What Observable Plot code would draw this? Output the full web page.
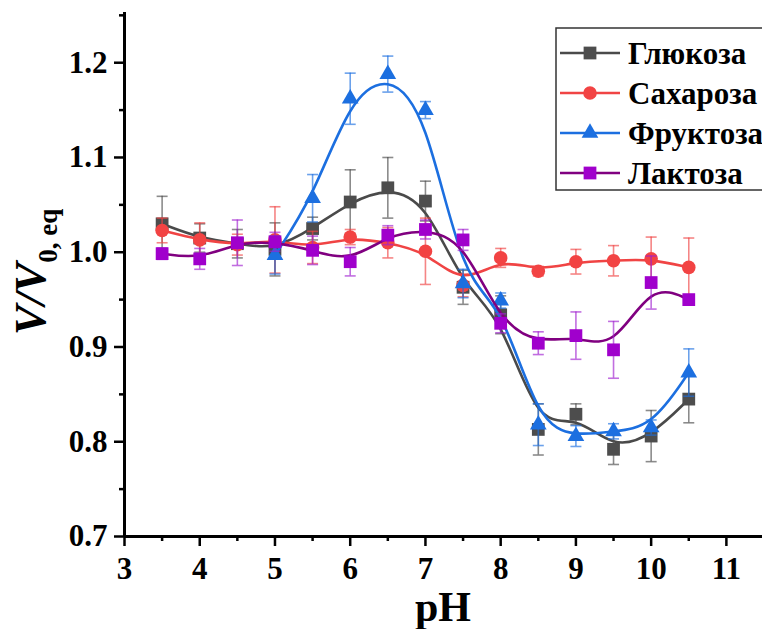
<!DOCTYPE html>
<html><head><meta charset="utf-8">
<script src="https://cdn.jsdelivr.net/npm/d3@7"></script>
<script src="https://cdn.jsdelivr.net/npm/@observablehq/plot@0.6"></script>
<style>body{margin:0;background:#fff}</style>
</head><body><div id="chart"></div>
<script>
const pH = [3.5, 4, 4.5, 5, 5.5, 6, 6.5, 7, 7.5, 8, 8.5, 9, 9.5, 10, 10.5];
const glucose    = [1.030, 1.015, 1.009, 1.003, 1.025, 1.053, 1.068, 1.054, 0.963, 0.934, 0.813, 0.829, 0.792, 0.806, 0.845];
const glucoseErr = [0.029, 0.015, 0.015, 0.028, 0.012, 0.034, 0.032, 0.021, 0.018, 0.020, 0.027, 0.011, 0.016, 0.027, 0.025];
const sucrose    = [1.023, 1.013, 1.008, 1.013, 1.005, 1.016, 1.010, 1.001, 0.965, 0.994, 0.980, 0.990, 0.991, 0.993, 0.984];
const sucroseErr = [0.013, 0.018, 0.011, 0.035, 0.017, 0.008, 0.016, 0.035, 0.012, 0.010, 0.005, 0.013, 0.016, 0.023, 0.031];
const fructose    = [null, null, null, 0.997, 1.057, 1.162, 1.188, 1.150, 0.967, 0.949, 0.818, 0.806, 0.811, 0.815, 0.873];
const fructoseErr = [null, null, null, 0.020, 0.025, 0.027, 0.019, 0.009, 0.015, 0.008, 0.022, 0.011, 0.008, 0.008, 0.025];
const lactose    = [0.9985, 0.993, 1.010, 1.011, 1.002, 0.990, 1.018, 1.024, 1.013, 0.925, 0.904, 0.912, 0.897, 0.968, 0.950];
const lactoseErr = [0.006, 0.011, 0.024, 0.010, 0.015, 0.015, 0.010, 0.010, 0.011, 0.010, 0.012, 0.025, 0.030, 0.028, 0.003];
const names = ["Глюкоза", "Сахароза", "Фруктоза", "Лактоза"];
const xTicks = [3, 4, 5, 6, 7, 8, 9, 10, 11];
const xMinorTicks = [3.5, 4.5, 5.5, 6.5, 7.5, 8.5, 9.5, 10.5];
const yTicks = [0.7, 0.8, 0.9, 1.0, 1.1, 1.2];
const yMinorTicks = [0.75, 0.85, 0.95, 1.05, 1.15, 1.25];
const xLabel = "pH";

const styles = [
  {line: "#4a4a4a", fill: "#4d4d4d", err: "#4d4d4d", symbol: "square", r: 7.2},
  {line: "#f04444", fill: "#f24343", err: "#f04444", symbol: "circle", r: 6.8},
  {line: "#1c6fe0", fill: "#1c6fe0", err: "#1c6fe0", symbol: "triangle", r: 6.2},
  {line: "#800080", fill: "#a000cc", err: "#a020d0", symbol: "square", r: 7.2}
];
const values = [glucose, sucrose, fructose, lactose];
const errors = [glucoseErr, sucroseErr, fructoseErr, lactoseErr];

const capSymbol = {draw(ctx) { ctx.moveTo(-5.5, 0); ctx.lineTo(5.5, 0); }};

const seriesMarks = names.flatMap((name, k) => {
  const st = styles[k];
  const data = pH.map((x, i) => ({x, y: values[k][i], e: errors[k][i]})).filter(d => d.y != null);
  const caps = data.flatMap(d => [{x: d.x, y: d.y - d.e}, {x: d.x, y: d.y + d.e}]);
  return [
    Plot.line(data, {x: "x", y: "y", curve: "basis", stroke: st.line, strokeWidth: 2.6}),
    Plot.ruleX(data, {x: "x", y1: d => d.y - d.e, y2: d => d.y + d.e, stroke: st.err, strokeOpacity: 0.65, strokeWidth: 1.6}),
    Plot.dot(caps, {x: "x", y: "y", symbol: capSymbol, fill: "none", stroke: st.err, strokeOpacity: 0.65, strokeWidth: 1.6}),
    Plot.dot(data, {x: "x", y: "y", symbol: st.symbol, r: st.r, fill: st.fill, stroke: "none"})
  ];
});

const font = "Liberation Serif, Times New Roman, serif";
const plot = Plot.plot({
  width: 762, height: 629,
  marginLeft: 124, marginRight: 0, marginTop: 12, marginBottom: 93,
  x: {domain: [3, 11.48]},
  y: {domain: [0.7, 1.253]},
  style: {fontFamily: font, fontWeight: "bold", fontSize: "31px", color: "#000", background: "#fff"},
  marks: [
    Plot.axisX({ticks: xTicks, tickSize: 10, tickPadding: 10, strokeWidth: 2.5, label: null, tickFormat: d => String(d)}),
    Plot.axisX({ticks: xMinorTicks, tickSize: 5, strokeWidth: 2.5, label: null, tickFormat: () => ""}),
    Plot.axisY({ticks: yTicks, tickSize: 10, tickPadding: 7, strokeWidth: 2.5, label: null, tickFormat: d => d.toFixed(1)}),
    Plot.axisY({ticks: yMinorTicks, tickSize: 5, strokeWidth: 2.5, label: null, tickFormat: () => ""}),
    Plot.ruleY([0.7], {strokeWidth: 3}),
    Plot.ruleX([3], {strokeWidth: 3}),
    ...seriesMarks
  ]
});
document.getElementById("chart").appendChild(plot);

const svg = d3.select(plot);
svg.selectAll("text").style("font-family", font).style("font-size", "31px");
// axis titles
svg.append("text").attr("x", 443).attr("y", 621).attr("text-anchor", "middle")
  .style("font-family", font).style("font-weight", "bold").style("font-size", "42px").text(xLabel);
const yl = svg.append("text").attr("transform", "translate(45,272) rotate(-90)").attr("text-anchor", "middle")
  .style("font-family", font).style("font-weight", "bold");
yl.append("tspan").style("font-style", "italic").style("font-size", "45px").text("V/V");
yl.append("tspan").attr("dy", 12).style("font-size", "27px").text("0, eq");

// legend
const lg = svg.append("g");
lg.append("rect").attr("x", 556).attr("y", 28).attr("width", 230).attr("height", 162)
  .attr("fill", "#fff").attr("stroke", "#333").attr("stroke-width", 1.5);
const symMap = {square: d3.symbolSquare, circle: d3.symbolCircle, triangle: d3.symbolTriangle};
names.forEach((name, k) => {
  const st = styles[k];
  const cy = 53 + k * 40;
  lg.append("line").attr("x1", 560).attr("x2", 620).attr("y1", cy).attr("y2", cy)
    .attr("stroke", st.line).attr("stroke-width", 2.6);
  lg.append("path").attr("transform", `translate(590,${cy})`)
    .attr("d", d3.symbol(symMap[st.symbol], Math.PI * st.r * st.r)()).attr("fill", st.fill);
  lg.append("text").attr("x", 628).attr("y", cy + 11).attr("text-anchor", "start")
    .style("font-family", font).style("font-weight", "bold").style("font-size", "31px").text(name);
});
</script>
</body></html>
